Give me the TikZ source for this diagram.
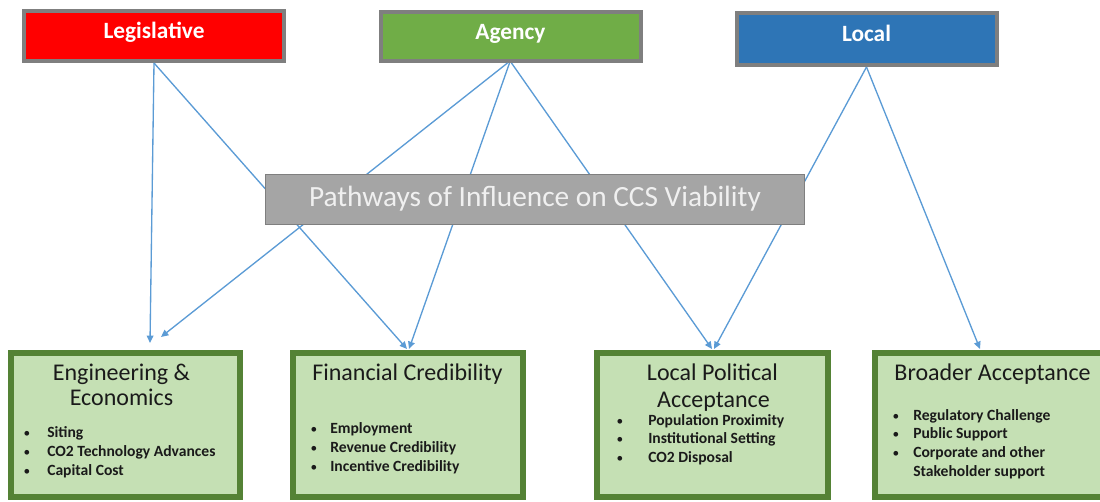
\documentclass[tikz,border=0pt]{standalone}
\usepackage{fontspec}
\setmainfont{Carlito}
\usetikzlibrary{arrows.meta,calc}

\definecolor{legred}{HTML}{FF0000}
\definecolor{agreen}{HTML}{70AD47}
\definecolor{locblue}{HTML}{2E75B6}
\definecolor{framegray}{HTML}{7F7F7F}
\definecolor{midgray}{HTML}{A5A5A5}
\definecolor{linkblue}{HTML}{5B9BD5}
\definecolor{boxgreen}{HTML}{548235}
\definecolor{boxfill}{HTML}{C5E0B4}
\definecolor{inktext}{HTML}{1A1A1A}

\begin{document}
\begin{tikzpicture}[x=0.75pt,y=-0.75pt,
  source/.style={draw=framegray, line width=3pt, minimum width=195pt,
    inner sep=0pt, text=white, font=\fontsize{17.5}{21}\selectfont\bfseries,
    text height=0.65em, text depth=0.25em},
  hub/.style={draw=framegray, line width=1pt, fill=midgray,
    minimum width=404pt, minimum height=37.5pt, inner sep=0pt,
    text=white!94!black, font=\fontsize{22}{26}\selectfont,
    text height=1.0em, text depth=0.02em},
  outcome/.style={draw=boxgreen, line width=4.5pt, fill=boxfill,
    minimum height=108pt, inner sep=0pt},
  heading/.style={anchor=base, inner sep=0pt, text=inktext,
    font=\fontsize{18}{22}\selectfont},
  item/.style={anchor=base west, inner sep=0pt, text=inktext,
    font=\fontsize{11.7}{14}\selectfont\bfseries},
  dot/.style={anchor=base, inner sep=0pt, text=inktext,
    font=\fontsize{10}{14}\selectfont},
  link/.style={draw=linkblue, line width=1pt,
    -{Triangle[length=5.5pt,width=5pt]}}
]
\clip (0,0) rectangle (1100,502);

% influence sources
\node[source, fill=legred, minimum height=37.5pt] (leg) at (154,36) {Legislative};
\node[source, fill=agreen, minimum height=36.75pt] (agy) at (510.5,36.5) {Agency};
\node[source, fill=locblue, minimum height=39pt] (loc) at (866.5,39) {Local};

% outcome boxes
\node[outcome, minimum width=172pt] (ee)  at (125.5,425) {};
\node[outcome, minimum width=172.5pt] (fc) at (408,425) {};
\node[outcome, minimum width=173pt] (lpa) at (712.5,425) {};
\node[outcome, minimum width=174pt] (ba)  at (991,425) {};

% pathways (drawn first so the hub box covers them)
\draw[link] (leg.south) -- ($(ee.north)+(24.5,-7)$);
\draw[link] (leg.south) -- ($(fc.north)+(-1,-1)$);
\draw[link] ($(agy.south)+(-3,0)$) -- ($(ee.north)+(35.5,-13)$);
\draw[link] ($(agy.south)+(-1,0)$) -- ($(fc.north)+(1,-1)$);
\draw[link] ($(agy.south)+(1,0)$) -- ($(lpa.north)+(-0.5,-1)$);
\draw[link] (loc.south) -- ($(lpa.north)+(1.5,-1)$);
\draw[link] (loc.south) -- ($(ba.north)+(-11,-1)$);

% central hub
\node[hub] (hub) at (535,199.5) {Pathways of Influence on CCS Viability};

% Engineering & Economics
\node[heading] (ee-h1) at (121.5,381) {Engineering \&};
\node[heading] (ee-h2) at (121.5,406) {Economics};
\foreach \txt [count=\i] in {Siting, CO2 Technology Advances, Capital Cost} {
  \node[dot] (ee-d\i) at (27,{437.7+18.7*(\i-1)}) {\textbullet};
  \node[item] (ee-b\i) at (47,{437.7+18.7*(\i-1)}) {\txt};
}

% Financial Credibility
\node[heading] (fc-h1) at (407.5,381) {Financial Credibility};
\foreach \txt [count=\i] in {Employment, Revenue Credibility, Incentive Credibility} {
  \node[dot] (fc-d\i) at (314,{433+19*(\i-1)}) {\textbullet};
  \node[item] (fc-b\i) at (330,{433+19*(\i-1)}) {\txt};
}

% Local Political Acceptance
\node[heading] (lpa-h1) at (712.5,381) {Local Political};
\node[heading] (lpa-h2) at (713.5,407) {Acceptance};
\foreach \txt [count=\i] in {Population Proximity, Institutional Setting, CO2 Disposal} {
  \node[dot] (lpa-d\i) at (620,{425+18.8*(\i-1)}) {\textbullet};
  \node[item] (lpa-b\i) at (648,{425+18.8*(\i-1)}) {\txt};
}

% Broader Acceptance
\node[heading] (ba-h1) at (992.5,380) {Broader Acceptance};
\foreach \txt [count=\i] in {Regulatory Challenge, Public Support, Corporate and other} {
  \node[dot] (ba-d\i) at (896,{420+18.8*(\i-1)}) {\textbullet};
  \node[item] (ba-b\i) at (913,{420+18.8*(\i-1)}) {\txt};
}
\node[item] (ba-b4) at (913,476.5) {Stakeholder support};
\end{tikzpicture}
\end{document}
